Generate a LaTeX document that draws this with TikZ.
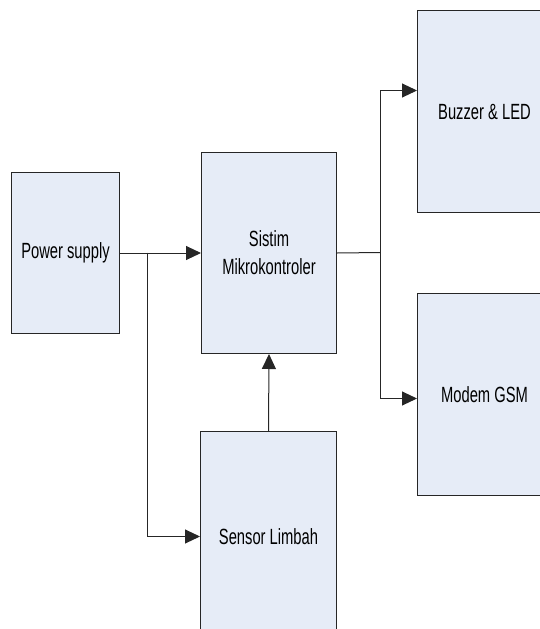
\documentclass[tikz,border=0pt]{standalone}
\usepackage{fontspec}
\setmainfont{Liberation Sans}[FakeStretch=0.67]
\usetikzlibrary{arrows.meta}
\definecolor{boxfill}{RGB}{230,236,247}
\begin{document}
\begin{tikzpicture}[x=1pt,y=-1pt,
  box/.style={draw=black!85, fill=boxfill, line width=1pt, rectangle, inner sep=0pt,
    anchor=north west, align=center, font=\fontsize{22}{28}\selectfont},
  conn/.style={line width=1pt, draw=black!85},
  arr/.style={conn, -{Triangle[length=15pt,width=14pt]}}]
\useasboundingbox (0,0) rectangle (540,629);
\begin{scope}
\clip (0,0) rectangle (540,629);
\node[box, minimum width=108pt, minimum height=161pt] (ps) at (11,172) {Power supply};
\node[box, minimum width=135pt, minimum height=201pt] (mc) at (201,152) {Sistim\\Mikrokontroler};
\node[box, minimum width=136pt, minimum height=210pt] (sn) at (200,431) {Sensor Limbah};
\node[box, minimum width=134pt, minimum height=202pt] (bz) at (417,10) {Buzzer \& LED};
\node[box, minimum width=134pt, minimum height=202pt] (md) at (417,293) {Modem GSM};
\coordinate (j1) at (147,252.5);
\coordinate (j2) at (380,252.5);
\draw[arr] (ps.east) -- (mc.west);
\draw[arr] (j1) |- (sn.west);
\draw[conn] (mc.east) -- (j2);
\draw[arr] (j2) |- ([yshift=21pt]bz.west);
\draw[arr] (j2) |- ([yshift=-4pt]md.west);
\draw[arr] (sn.north) -- (mc.south);
\end{scope}
\end{tikzpicture}
\end{document}
